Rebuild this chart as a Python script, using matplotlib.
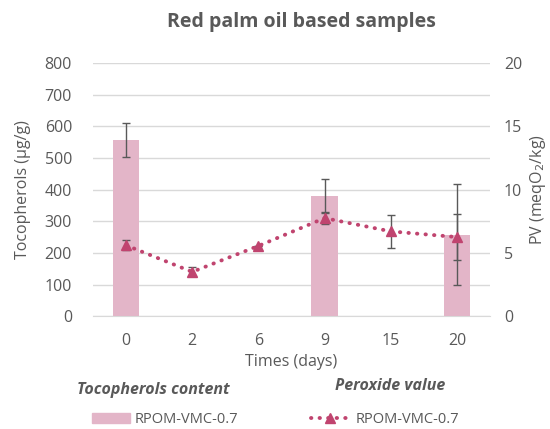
import numpy as np
import matplotlib.pyplot as plt
from matplotlib.patches import Patch
from matplotlib.lines import Line2D

plt.rcParams['font.family'] = ['Open Sans', 'DejaVu Sans']

# Data
days = ['0', '2', '6', '9', '15', '20']
tocopherols = [557, np.nan, np.nan, 380, np.nan, 257]
tocopherols_err = [55, np.nan, np.nan, 55, np.nan, 160]
peroxide = [5.6, 3.5, 5.55, 7.75, 6.7, 6.25]
peroxide_err = [0.4, 0.35, 0, 0.5, 1.3, 1.85]

BAR_COLOUR = '#E3B5C8'
LINE_COLOUR = '#C0446F'
TEXT_COLOUR = '#595959'
GRID_COLOUR = '#D9D9D9'
DOTS = (0, (0.1, 2.1))

fig = plt.figure(figsize=(5.5, 4.29), dpi=100)
ax = fig.add_axes([0.169, 0.263, 0.722, 0.590])
ax2 = ax.twinx()

x = np.arange(len(days))
ax.bar(x, tocopherols, width=0.4, color=BAR_COLOUR, zorder=2)
ax.errorbar(x, tocopherols, yerr=tocopherols_err, fmt='none',
            ecolor=TEXT_COLOUR, elinewidth=1, capsize=3, capthick=1,
            zorder=3)

ax2.errorbar(x, peroxide, yerr=peroxide_err, fmt='none',
             ecolor=TEXT_COLOUR, elinewidth=1, capsize=3, capthick=1,
             zorder=3)
ax2.plot(x, peroxide, color=LINE_COLOUR, ls=DOTS, lw=2.8,
         dash_capstyle='round', marker='^', ms=7, zorder=4)

ax.set_ylim(0, 800)
ax.set_yticks(np.arange(0, 801, 100))
ax2.set_ylim(0, 20)
ax2.set_yticks([0, 5, 10, 15, 20])
ax.set_xlim(-0.5, 5.5)
ax.set_xticks(x)
ax.set_xticklabels(days)

ax.yaxis.grid(True, color=GRID_COLOUR, lw=1)
ax.set_axisbelow(True)
for a in (ax, ax2):
    for side in ('top', 'left', 'right'):
        a.spines[side].set_visible(False)
    a.spines['bottom'].set_color(GRID_COLOUR)
    a.tick_params(length=0, colors=TEXT_COLOUR, labelsize=11.5, pad=10)
ax.tick_params(axis='y', pad=15)
ax.tick_params(axis='x', pad=12)
ax2.spines['bottom'].set_visible(False)

ax.set_ylabel('Tocopherols (µg/g)', color=TEXT_COLOUR, fontsize=11.5,
              labelpad=10)
ax2.set_ylabel('PV (meqO$_2$/kg)', color=TEXT_COLOUR, fontsize=11.5,
               labelpad=4)
ax.set_xlabel('Times (days)', color=TEXT_COLOUR, fontsize=11.5, labelpad=4)

fig.text(0.548, 0.948, 'Red palm oil based samples', ha='center',
         va='center', fontsize=14, fontweight='bold', color=TEXT_COLOUR)

fig.text(0.278, 0.092, 'Tocopherols content', ha='center', va='center',
         fontsize=11.5, fontweight='bold', style='italic', color=TEXT_COLOUR)
fig.text(0.710, 0.100, 'Peroxide value', ha='center', va='center',
         fontsize=11.5, fontweight='bold', style='italic', color=TEXT_COLOUR)

bar_handle = Patch(color=BAR_COLOUR)
line_handle = Line2D([], [], color=LINE_COLOUR, ls=DOTS, lw=2.8,
                     dash_capstyle='round', marker='^', ms=7)
fig.legend([bar_handle], ['RPOM-VMC-0.7'], loc='center',
           bbox_to_anchor=(0.30, 0.022), frameon=False,
           fontsize=10.5, labelcolor=TEXT_COLOUR, handlelength=2.6,
           handletextpad=0.3)
fig.legend([line_handle], ['RPOM-VMC-0.7'], loc='center',
           bbox_to_anchor=(0.70, 0.022), frameon=False,
           fontsize=10.5, labelcolor=TEXT_COLOUR, handlelength=2.6,
           handletextpad=0.5)

fig.savefig('out.png', dpi=100)
